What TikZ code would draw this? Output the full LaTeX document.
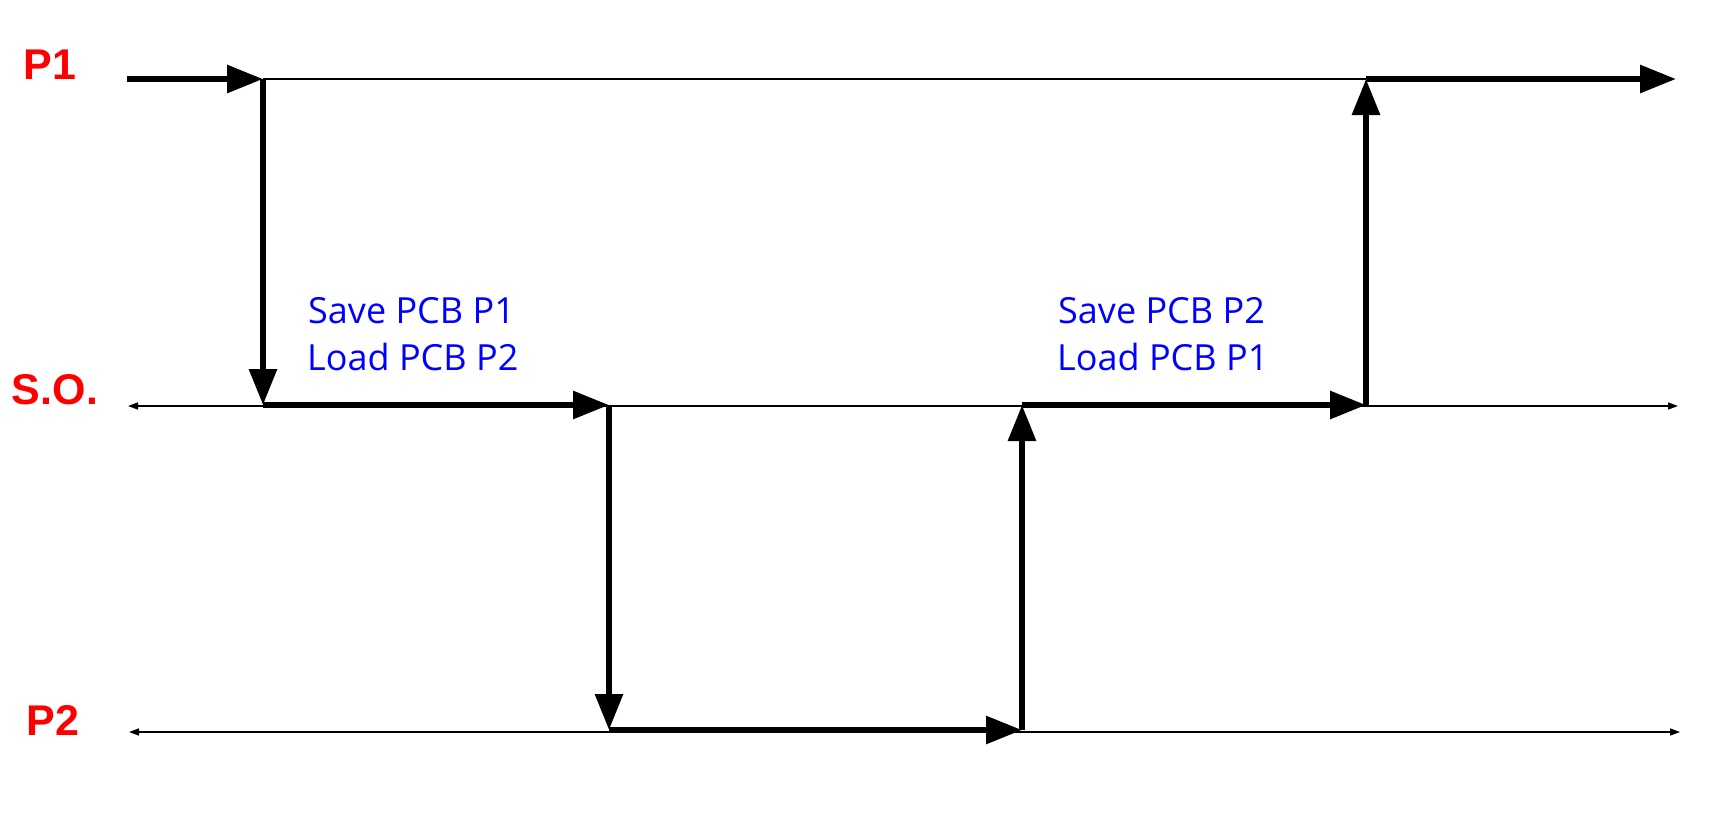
\documentclass[tikz,border=0pt]{standalone}
\usepackage{fontspec}
\setmainfont{Liberation Sans}
\newfontfamily\lblfont{Liberation Sans}
\newfontfamily\notefont{Open Sans}
\usetikzlibrary{arrows.meta}
\definecolor{lblred}{RGB}{255,0,0}
\definecolor{noteblue}{RGB}{0,0,255}
\tikzset{
  thickarrow/.style={line width=6pt, -{Triangle[length=36pt,width=27pt]}},
  thinaxis/.style={line width=1.5pt, {Triangle[length=10pt,width=7pt]}-{Triangle[length=10pt,width=7pt]}},
  thinline/.style={line width=1.5pt},
  lane/.style={text=lblred, font=\lblfont\bfseries\fontsize{43}{46}\selectfont, inner sep=0pt},
  note/.style={text=noteblue, font=\notefont\fontsize{36}{40}\selectfont, inner sep=0pt, anchor=base west},
}
\begin{document}
\begin{tikzpicture}[x=1pt,y=-1pt]
\useasboundingbox (0,0) rectangle (1720,812);
% labels
\node[lane] (lp1) at (50,65) {P1};
\node[lane] (lso) at (55,390) {S.O.};
\node[lane] (lp2) at (53,720) {P2};
% coordinates
\coordinate (a0) at (127,79);
\coordinate (a1) at (263,79);
\coordinate (b1) at (263,405);
\coordinate (b2) at (609,405);
\coordinate (c2) at (609,730);
\coordinate (c3) at (1022,730);
\coordinate (d3) at (1022,405);
\coordinate (d4) at (1366,405);
\coordinate (e4) at (1366,79);
\coordinate (e5) at (1676,79);
\coordinate (sol) at (128,406);
\coordinate (sor) at (1678,406);
\coordinate (p2l) at (129,732);
\coordinate (p2r) at (1680,732);
% thin timelines
\draw[thinline] (a1) -- (e4);
\draw[thinaxis] (sol) -- (sor);
\draw[thinaxis] (p2l) -- (p2r);
% thick flow
\draw[thickarrow] (a0) -- (a1);
\draw[thickarrow] (a1) -- (b1);
\draw[thickarrow] (b1) -- (b2);
\draw[thickarrow] (b2) -- (c2);
\draw[thickarrow] (c2) -- (c3);
\draw[thickarrow] (c3) -- (d3);
\draw[thickarrow] (d3) -- (d4);
\draw[thickarrow] (d4) -- (e4);
\draw[thickarrow] (e4) -- (e5);
% notes
\node[note] (n1a) at (308,323) {Save PCB P1};
\node[note] (n1b) at (307,370) {Load PCB P2};
\node[note] (n2a) at (1058,323) {Save PCB P2};
\node[note] (n2b) at (1057,370) {Load PCB P1};
\end{tikzpicture}
\end{document}
